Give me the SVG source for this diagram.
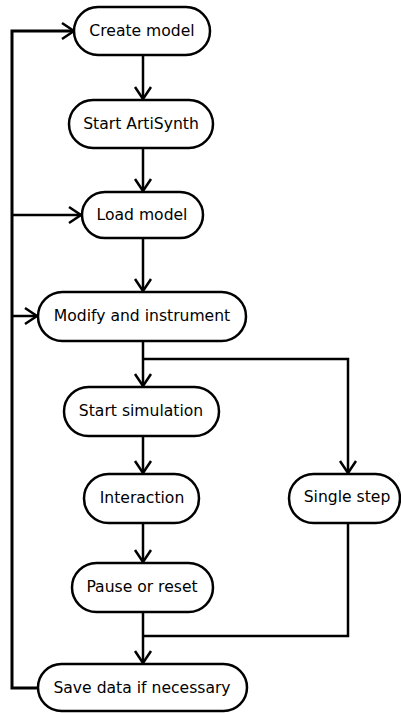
<svg xmlns="http://www.w3.org/2000/svg" width="401" height="713" viewBox="0 0 401 713">
<style>
.n rect{fill:#fff;stroke:#000;stroke-width:2.5}
.n text{font-family:"DejaVu Sans",sans-serif;font-size:15.6px;fill:#000;text-anchor:middle;dominant-baseline:central}
.c path{fill:none;stroke:#000;stroke-width:2.5}
.a path{fill:none;stroke:#000;stroke-width:2.5}
</style>
<rect width="401" height="713" fill="#fff"/>
<g class="c">
<path d="M143 55V99"/>
<path d="M143 148V191"/>
<path d="M143 238V291"/>
<path d="M143 341V386"/>
<path d="M143 359H348V473"/>
<path d="M143 436V473"/>
<path d="M143 523V562"/>
<path d="M143 612V663"/>
<path d="M348 523V636H143"/>
<path d="M38 688H12V31H74" style="stroke-width:3"/>
<path d="M12 215H81"/>
<path d="M12 316H37"/>
</g>
<g class="a">
<path d="M135 87L143 99L151 87"/>
<path d="M135 179L143 191L151 179"/>
<path d="M135 279L143 291L151 279"/>
<path d="M135 374L143 386L151 374"/>
<path d="M340 461L348 473L356 461"/>
<path d="M135 461L143 473L151 461"/>
<path d="M135 550L143 562L151 550"/>
<path d="M135 651L143 663L151 651"/>
<path d="M62 23L74 31L62 39"/>
<path d="M69 207L81 215L69 223"/>
<path d="M25 308L37 316L25 324"/>
</g>
<g id="create" class="n"><rect x="74" y="7" width="136" height="48" rx="24"/><text x="142" y="31">Create model</text></g>
<g id="start" class="n"><rect x="69" y="100" width="144" height="48" rx="24"/><text x="141" y="124">Start ArtiSynth</text></g>
<g id="load" class="n"><rect x="82" y="192" width="121" height="46" rx="23"/><text x="142" y="215">Load model</text></g>
<g id="modify" class="n"><rect x="38" y="292" width="208" height="49" rx="24.5"/><text x="142" y="316">Modify and instrument</text></g>
<g id="startsim" class="n"><rect x="64" y="387" width="155" height="49" rx="24.5"/><text x="141" y="411">Start simulation</text></g>
<g id="interaction" class="n"><rect x="84" y="474" width="115" height="49" rx="24.5"/><text x="142" y="498">Interaction</text></g>
<g id="single" class="n"><rect x="289" y="474" width="111" height="49" rx="24.5"/><text x="347" y="497">Single step</text></g>
<g id="pause" class="n"><rect x="72" y="563" width="141" height="49" rx="24.5"/><text x="142" y="587">Pause or reset</text></g>
<g id="save" class="n"><rect x="38" y="664" width="209" height="47" rx="23.5"/><text x="142" y="688">Save data if necessary</text></g>
</svg>
